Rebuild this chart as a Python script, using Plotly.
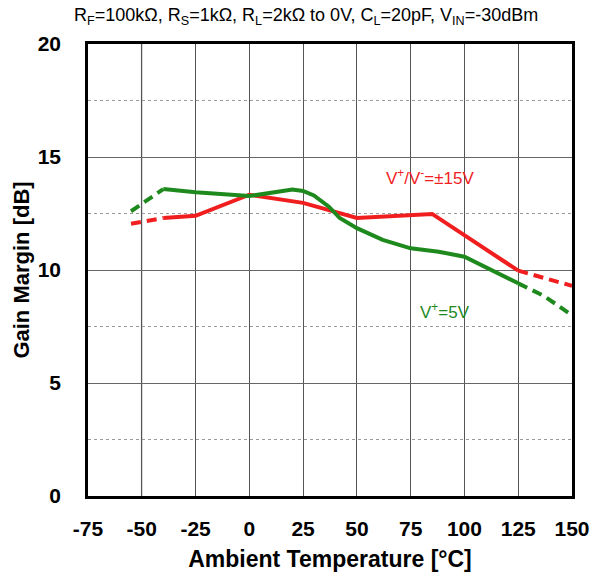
import plotly.graph_objects as go

# ±15V supply (red)
red_t_lo = [-55, -40]
red_v_lo = [12.05, 12.3]
red_t = [-40, -25, 0, 25, 50, 75, 85, 125]
red_v = [12.3, 12.4, 13.33, 12.97, 12.3, 12.4, 12.48, 9.97]
red_t_hi = [125, 150]
red_v_hi = [9.97, 9.3]

# +5V supply (green)
grn_t_lo = [-55, -40]
grn_v_lo = [12.6, 13.58]
grn_t = [-40, -25, 0, 14, 20, 25, 30, 37, 42, 50, 62, 75, 88, 100, 113, 125]
grn_v = [13.58, 13.44, 13.27, 13.47, 13.56, 13.5, 13.3, 12.8, 12.3, 11.85, 11.33, 10.96, 10.81, 10.59, 10.0, 9.41]
grn_t_hi = [125, 137, 150]
grn_v_hi = [9.41, 8.85, 8.0]

x_ticks = [-75, -50, -25, 0, 25, 50, 75, 100, 125, 150]
x_labels = ["-75", "-50", "-25", "0", "25", "50", "75", "100", "125", "150"]
y_ticks = [0, 5, 10, 15, 20]
y_labels = ["0", "5", "10", "15", "20"]

RED = "#f01e1e"
GREEN = "#1e8a1e"
FONT = "Liberation Sans, Arial, sans-serif"
LW = 4

fig = go.Figure()


def add_line(x, y, color, dash="solid"):
    fig.add_trace(go.Scatter(
        x=x, y=y, mode="lines",
        line=dict(color=color, width=LW, dash=dash),
        hoverinfo="skip", showlegend=False,
    ))


add_line(red_t_lo, red_v_lo, RED, "10px,6px")
add_line(red_t, red_v, RED)
add_line(red_t_hi, red_v_hi, RED, "10px,6px")
add_line(grn_t_lo, grn_v_lo, GREEN, "10px,6px")
add_line(grn_t, grn_v, GREEN)
add_line(grn_t_hi, grn_v_hi, GREEN, "10px,6px")

# the -50 gridline is drawn lighter in the original
fig.add_shape(type="line", xref="x", yref="paper", x0=-50, x1=-50, y0=0, y1=1,
              line=dict(color="#d0d0d0", width=2), layer="below")

fig.add_annotation(x=84, y=14.1, text="V<sup>+</sup>/V<sup>-</sup>=±15V", showarrow=False,
                   font=dict(family=FONT, size=17, color=RED))
fig.add_annotation(x=91, y=8.2, text="V<sup>+</sup>=5V", showarrow=False,
                   font=dict(family=FONT, size=17, color=GREEN))

# title (cut off at the top in the original) and subtitle
fig.add_annotation(xref="paper", yref="paper", x=0.48, y=1.137, yanchor="middle",
                   text="<b>Gain Margin vs. Ambient Temperature</b>", showarrow=False,
                   font=dict(family=FONT, size=21, color="black"))
fig.add_annotation(xref="paper", yref="paper", x=0.45, y=1.06, yanchor="middle",
                   text="R<sub>F</sub>=100kΩ, R<sub>S</sub>=1kΩ, R<sub>L</sub>=2kΩ to 0V, "
                        "C<sub>L</sub>=20pF, V<sub>IN</sub>=-30dBm",
                   showarrow=False, font=dict(family=FONT, size=18, color="black"))

# page body keeps an 8px margin, so the figure is sized to fit the 602x573 window
fig.update_layout(
    width=594, height=565,
    margin=dict(l=80, r=30, t=36, b=77),
    paper_bgcolor="white", plot_bgcolor="white",
    font=dict(family=FONT, color="black"),
    xaxis=dict(
        range=[-75, 150], tickvals=x_ticks, ticktext=[f"<b>{s}</b>" for s in x_labels],
        ticks="", automargin=False,
        showgrid=True, gridcolor="#555", gridwidth=1,
        showline=True, linecolor="black", linewidth=2.5, mirror=True,
        zeroline=False, ticklabelstandoff=12,
        tickfont=dict(family=FONT, size=21),
        title=dict(text="<b>Ambient Temperature [°C]</b>", standoff=12,
                   font=dict(family=FONT, size=23)),
    ),
    yaxis=dict(
        range=[0, 20], tickvals=y_ticks, ticktext=[f"<b>{s}</b>" for s in y_labels],
        ticks="", automargin=False,
        showgrid=True, gridcolor="#666", gridwidth=1,
        minor=dict(dtick=2.5, showgrid=True, gridcolor="#9a9a9a", griddash="dot", gridwidth=1),
        showline=True, linecolor="black", linewidth=2.5, mirror=True,
        zeroline=False, ticklabelstandoff=20,
        tickfont=dict(family=FONT, size=21),
        title=dict(text="<b>Gain Margin [dB]</b>", standoff=2,
                   font=dict(family=FONT, size=22)),
    ),
)

fig.write_html("out.html")
